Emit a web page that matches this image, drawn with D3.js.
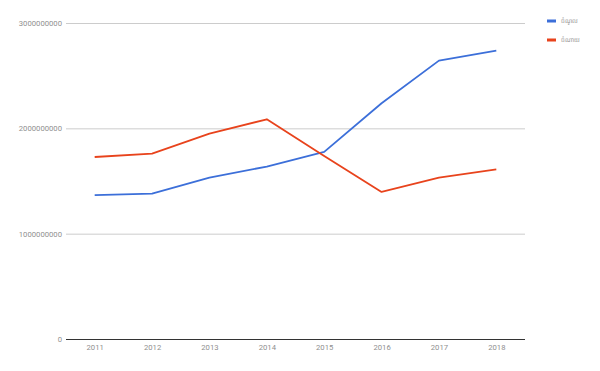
<!DOCTYPE html>
<html>
<head>
<meta charset="utf-8">
<script src="https://cdn.jsdelivr.net/npm/d3@7"></script>
<style>
  body { margin: 0; background: #fff; }
  text { font-family: Roboto, "Noto Sans", sans-serif; }
</style>
</head>
<body>
<div class="chart"></div>
<script>
// chart data
const years = ["2011", "2012", "2013", "2014", "2015", "2016", "2017", "2018"]
const income = [1365000000, 1380000000, 1533000000, 1637000000, 1776000000, 2238000000, 2643000000, 2738000000]
const expense = [1728000000, 1760000000, 1950000000, 2086000000, 1738000000, 1396000000, 1532000000, 1611000000]
const yTicks = [0, 1000000000, 2000000000, 3000000000]
const seriesNames = ["ចំណូល", "ចំណាយ"]

const colors = ["#3c6fd9", "#e8431c"]

const W = 600, H = 371
const margin = { top: 23, right: 75, bottom: 32, left: 66 }
const width = W - margin.left - margin.right
const height = H - margin.top - margin.bottom

const svg = d3.select(".chart")
  .append("svg")
  .attr("width", W)
  .attr("height", H)

const g = svg.append("g")
  .attr("transform", `translate(${margin.left},${margin.top})`)

const x = d3.scalePoint()
  .domain(years)
  .range([0, width])
  .padding(0.5)

const y = d3.scaleLinear()
  .domain([0, 3000000000])
  .range([height, 0])

// gridlines + y labels
const yAxis = g.append("g")
  .call(d3.axisLeft(y).tickValues(yTicks).tickSize(-width).tickFormat(d3.format("d")).tickPadding(4))
yAxis.select(".domain").remove()
yAxis.selectAll(".tick line")
  .attr("stroke", (d) => d === 0 ? "#333" : "#ccc")
yAxis.selectAll(".tick text")
  .attr("fill", "#8f8f8f")
  .style("font-size", "7.7px")

// x labels
const xAxis = g.append("g")
  .attr("transform", `translate(0,${height})`)
  .call(d3.axisBottom(x).tickSize(0).tickPadding(6))
xAxis.select(".domain").remove()
xAxis.selectAll(".tick text")
  .attr("fill", "#8f8f8f")
  .style("font-size", "7.7px")

// lines
const line = d3.line()
  .x((d, i) => x(years[i]))
  .y((d) => y(d))

;[income, expense].forEach((series, i) => {
  g.append("path")
    .datum(series)
    .attr("fill", "none")
    .attr("stroke", colors[i])
    .attr("stroke-width", 1.8)
    .attr("stroke-linejoin", "round")
    .attr("d", line)
})

// legend
const legend = svg.append("g")
  .attr("transform", "translate(547,21)")
seriesNames.forEach((name, i) => {
  const row = legend.append("g").attr("transform", `translate(0,${i * 19})`)
  row.append("rect")
    .attr("x", 0).attr("y", -1.5)
    .attr("width", 9).attr("height", 3)
    .attr("fill", colors[i])
  row.append("text")
    .attr("x", 14).attr("y", 0)
    .attr("dy", "0.35em")
    .attr("fill", "#8f8f8f")
    .style("font-size", "6px")
    .text(name)
})
</script>
</body>
</html>
